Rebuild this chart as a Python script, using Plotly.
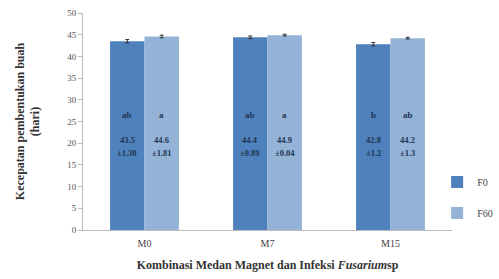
import plotly.graph_objects as go

categories = ["M0", "M7", "M15"]
f0_values = [43.5, 44.4, 42.8]
f60_values = [44.6, 44.9, 44.2]
f0_err = [0.40, 0.30, 0.40]
f60_err = [0.30, 0.20, 0.20]
f0_letters = ["ab", "ab", "b"]
f60_letters = ["a", "a", "ab"]
f0_means = ["43.5", "44.4", "42.8"]
f0_sd = ["±1.30", "±0.89", "±1.2"]
f60_means = ["44.6", "44.9", "44.2"]
f60_sd = ["±1.81", "±0.04", "±1.3"]
yticks = list(range(0, 55, 5))

xs = list(range(len(categories)))
bar_w = 0.28
serif = "Liberation Serif"
txt_col = "#1f3550"

fig = go.Figure()
fig.add_trace(go.Bar(x=xs, y=f0_values, name="F0", marker_color="#4f81bd",
                     marker_line_width=0, offsetgroup="a", legendgroup="g1",
                     error_y=dict(type="data", array=f0_err, color="#333", thickness=1, width=2)))
fig.add_trace(go.Bar(x=xs, y=f60_values, name="F60", marker_color="#95b3d7",
                     marker_line_width=0, offsetgroup="b", legendgroup="g2",
                     error_y=dict(type="data", array=f60_err, color="#333", thickness=1, width=2)))

ann = []
for i in xs:
    for dx, letter, mean, sd in [(-bar_w / 2, f0_letters[i], f0_means[i], f0_sd[i]),
                                 (bar_w / 2, f60_letters[i], f60_means[i], f60_sd[i])]:
        ann.append(dict(x=i + dx, y=26.6, text="<b>" + letter + "</b>", showarrow=False,
                        font=dict(family=serif, size=9, color=txt_col)))
        ann.append(dict(x=i + dx, y=20.7, text="<b>" + mean + "</b>", showarrow=False,
                        font=dict(family=serif, size=8.5, color=txt_col)))
        ann.append(dict(x=i + dx, y=17.7, text="<b>" + sd + "</b>", showarrow=False,
                        font=dict(family=serif, size=8.5, color=txt_col)))

fig.update_layout(
    width=499, height=279,
    margin=dict(l=83, r=47, t=13, b=49, autoexpand=False),
    paper_bgcolor="white", plot_bgcolor="white",
    barmode="group", bargap=0.44, bargroupgap=0,
    showlegend=True,
    legend=dict(x=1.125, y=0.15, xanchor="right", yanchor="middle",
                font=dict(family=serif, size=10, color="#444"),
                itemwidth=30, traceorder="grouped", tracegroupgap=12,
                bgcolor="rgba(0,0,0,0)"),
    annotations=ann,
    font=dict(family=serif),
)
fig.update_xaxes(range=[-0.5, 2.5], tickvals=xs, ticktext=categories, automargin=False,
                 showline=True, linecolor="#bbbbbb", linewidth=1, ticks="",
                 showgrid=False, zeroline=False, ticklabelstandoff=4,
                 tickfont=dict(family=serif, size=10, color="#444"),
                 title=dict(text="<b>Kombinasi Medan Magnet dan Infeksi <i>Fusarium</i>sp</b>",
                            font=dict(family=serif, size=12, color="#333"), standoff=12))
fig.update_yaxes(range=[0, 50], tickvals=yticks, showline=True, linecolor="#bbbbbb",
                 linewidth=1, ticks="outside", ticklen=4, tickcolor="#bbbbbb", automargin=False,
                 showgrid=False, zeroline=False,
                 tickfont=dict(family=serif, size=9, color="#555"),
                 title=dict(text="<b>Kecepatan pembentukan buah<br>(hari)</b>",
                            font=dict(family=serif, size=12, color="#333"), standoff=24))

fig.write_html("out.html", config={"displayModeBar": False},
               post_script="document.body.style.margin='0';document.body.style.overflow='hidden';")
